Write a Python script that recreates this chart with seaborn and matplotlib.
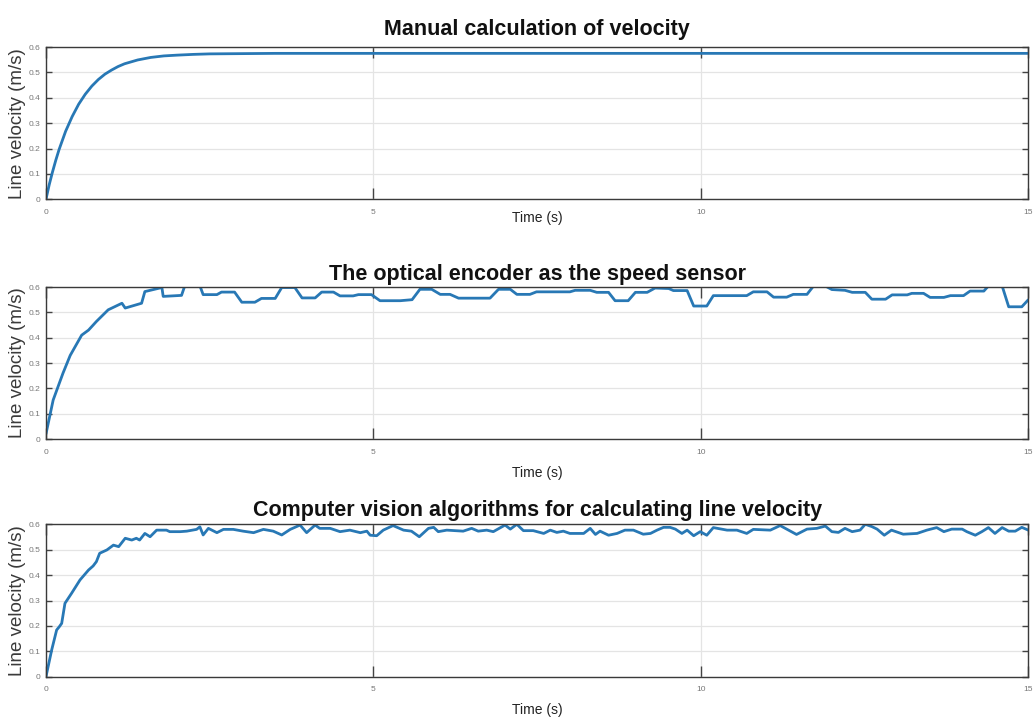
import numpy as np
import pandas as pd
import seaborn as sns
from matplotlib import pyplot as plt

# panel 1: manual calculation (smooth first-order rise)
t_manual = [0.0, 0.05, 0.1, 0.15, 0.2, 0.3, 0.4, 0.5, 0.6, 0.7, 0.8, 0.9, 1.0, 1.1, 1.2, 1.4,
            1.6, 1.8, 2.0, 2.25, 2.5, 3.0, 3.5, 4.0, 15.0]
v_manual = [0.0, 0.058, 0.108, 0.154, 0.196, 0.268, 0.326, 0.375, 0.414, 0.446, 0.472, 0.493,
            0.509, 0.523, 0.534, 0.549, 0.559, 0.565, 0.568, 0.571, 0.573, 0.574, 0.575, 0.575, 0.575]

# panel 2: optical encoder
t_encoder = [0.0, 0.11, 0.26, 0.37, 0.545, 0.65, 0.77, 0.95, 1.16, 1.21, 1.46, 1.51, 1.77, 1.79,
             2.07, 2.12, 2.35, 2.40, 2.61, 2.68, 2.88, 2.99, 3.19, 3.29, 3.50, 3.60, 3.80, 3.91,
             4.11, 4.21, 4.39, 4.49, 4.69, 4.77, 4.97, 5.10, 5.41, 5.59, 5.71, 5.89, 6.02, 6.17,
             6.30, 6.78, 6.91, 7.09, 7.19, 7.39, 7.49, 8.00, 8.08, 8.31, 8.41, 8.59, 8.69, 8.89,
             9.00, 9.18, 9.30, 9.51, 9.58, 9.79, 9.89, 10.09, 10.19, 10.70, 10.80, 11.01, 11.11,
             11.31, 11.41, 11.62, 11.72, 11.90, 12.00, 12.20, 12.31, 12.51, 12.61, 12.82, 12.92,
             13.15, 13.22, 13.40, 13.50, 13.71, 13.81, 14.01, 14.11, 14.32, 14.39, 14.60, 14.70,
             14.90, 15.0]
v_encoder = [0.02, 0.154, 0.26, 0.33, 0.41, 0.43, 0.464, 0.51, 0.536, 0.517, 0.536, 0.582, 0.598,
             0.563, 0.567, 0.605, 0.605, 0.57, 0.57, 0.58, 0.58, 0.54, 0.54, 0.555, 0.555, 0.598,
             0.598, 0.557, 0.557, 0.58, 0.58, 0.565, 0.565, 0.57, 0.57, 0.546, 0.546, 0.55, 0.591,
             0.591, 0.571, 0.571, 0.556, 0.556, 0.591, 0.591, 0.571, 0.571, 0.581, 0.581, 0.587,
             0.587, 0.579, 0.579, 0.546, 0.546, 0.579, 0.579, 0.596, 0.594, 0.586, 0.586, 0.525,
             0.525, 0.566, 0.566, 0.581, 0.581, 0.56, 0.56, 0.571, 0.571, 0.604, 0.604, 0.59,
             0.587, 0.579, 0.579, 0.552, 0.552, 0.569, 0.569, 0.575, 0.575, 0.559, 0.559, 0.566,
             0.566, 0.584, 0.584, 0.604, 0.604, 0.522, 0.522, 0.55]

# panel 3: computer vision
t_vision = [0.0, 0.087, 0.163, 0.204, 0.24, 0.29, 0.39, 0.52, 0.65, 0.72, 0.77, 0.82, 0.93, 1.03,
            1.11, 1.21, 1.31, 1.38, 1.43, 1.51, 1.59, 1.69, 1.84, 1.89, 2.05, 2.15, 2.30, 2.35,
            2.40, 2.48, 2.61, 2.71, 2.86, 3.01, 3.17, 3.32, 3.47, 3.60, 3.73, 3.88, 3.98, 4.11,
            4.18, 4.34, 4.49, 4.64, 4.80, 4.90,
            4.95, 5.05, 5.15, 5.30, 5.46, 5.58, 5.70, 5.84, 5.92, 5.99, 6.12, 6.37, 6.50, 6.60,
            6.73, 6.83, 7.01, 7.09, 7.19, 7.29, 7.44, 7.60, 7.70, 7.80, 7.90, 8.00, 8.21, 8.31,
            8.39, 8.46, 8.59, 8.72, 8.84, 8.97, 9.12, 9.23, 9.33, 9.43, 9.53, 9.61, 9.71, 9.79,
            9.89,
            9.99, 10.09, 10.19, 10.40, 10.55, 10.70, 10.80, 11.06, 11.21, 11.31, 11.46, 11.62,
            11.77, 11.90, 12.00, 12.10, 12.20, 12.31, 12.43, 12.51, 12.61, 12.69, 12.80, 12.91,
            13.09, 13.30, 13.45, 13.60, 13.71, 13.83, 13.99, 14.06, 14.19, 14.29, 14.39, 14.49,
            14.60, 14.70, 14.80, 14.90, 15.00]
v_vision = [0.0, 0.105, 0.184, 0.197, 0.21, 0.289, 0.328, 0.381, 0.42, 0.436, 0.453, 0.486, 0.499,
            0.518, 0.512, 0.545, 0.538, 0.545, 0.538, 0.564, 0.551, 0.577, 0.577, 0.571, 0.571,
            0.573, 0.58, 0.59, 0.558, 0.584, 0.567, 0.58, 0.58, 0.573, 0.567, 0.58, 0.573, 0.558,
            0.58, 0.597, 0.567, 0.597, 0.584, 0.584, 0.571, 0.577, 0.567, 0.573,
            0.557, 0.555, 0.577, 0.595, 0.577, 0.573, 0.551, 0.584, 0.588, 0.571, 0.577, 0.573,
            0.584, 0.573, 0.577, 0.571, 0.597, 0.581, 0.600, 0.575, 0.575, 0.564, 0.577, 0.568,
            0.573, 0.564, 0.564, 0.584, 0.560, 0.573, 0.557, 0.564, 0.577, 0.577, 0.561, 0.564,
            0.577, 0.588, 0.588, 0.581, 0.564, 0.577, 0.555,
            0.571, 0.557, 0.587, 0.577, 0.577, 0.564, 0.580, 0.577, 0.595, 0.581, 0.560, 0.581,
            0.584, 0.593, 0.571, 0.568, 0.584, 0.571, 0.577, 0.600, 0.591, 0.581, 0.557, 0.577,
            0.561, 0.564, 0.577, 0.587, 0.571, 0.581, 0.581, 0.571, 0.557, 0.571, 0.587, 0.564,
            0.587, 0.573, 0.573, 0.588, 0.577]

titles = ["Manual calculation of velocity",
          "The optical encoder as the speed sensor",
          "Computer vision algorithms for calculating line velocity"]
series = [(t_manual, v_manual), (t_encoder, v_encoder), (t_vision, v_vision)]

sns.set_theme(style="whitegrid")
plt.rcParams["font.family"] = ["Liberation Sans Narrow", "Liberation Sans", "DejaVu Sans"]

fig = plt.figure(figsize=(10.33, 7.19), dpi=100)
positions = [[0.0445, 0.7228, 0.951, 0.2118],
             [0.0445, 0.3894, 0.951, 0.2114],
             [0.0445, 0.0588, 0.951, 0.2120]]
title_pads = [8.5, 5, 6]
xlabel_pads = [-3.5, 7.3, 6.6]
line_color = "#2878b5"

for i, (pos, title, (t, v)) in enumerate(zip(positions, titles, series)):
    ax = fig.add_axes(pos)
    df = pd.DataFrame({"t": t, "v": v})
    sns.lineplot(data=df, x="t", y="v", ax=ax, color=line_color, linewidth=2.0,
                 estimator=None, sort=False)
    ax.set_xlim(0, 15)
    ax.set_ylim(0, 0.6)
    ax.set_xticks([0, 5, 10, 15])
    ax.set_yticks([0, 0.1, 0.2, 0.3, 0.4, 0.5, 0.6])
    ax.set_yticklabels(["0", "0.1", "0.2", "0.3", "0.4", "0.5", "0.6"])
    ax.grid(True, color="#e4e4e4", linewidth=0.9)
    ax.set_facecolor("white")
    for side in ["left", "right", "top", "bottom"]:
        ax.spines[side].set_visible(True)
        ax.spines[side].set_color("#3a3a3a")
        ax.spines[side].set_linewidth(1.0)
    ax.tick_params(axis="x", direction="in", length=8, width=1, color="#444444",
                   labelsize=6, labelcolor="#777777", top=True, bottom=True, pad=7)
    ax.tick_params(axis="y", direction="in", length=4.5, width=1, color="#444444",
                   labelsize=6, labelcolor="#777777", left=True, right=True, pad=4)
    ax.set_title(title, fontsize=15.5, fontweight="bold", color="#111111", pad=title_pads[i])
    ax.set_xlabel("Time (s)", fontsize=10, color="#222222", labelpad=xlabel_pads[i])
    ax.set_ylabel("Line velocity (m/s)", fontsize=13.5, color="#3a3a3a",
                  family=["Liberation Sans", "DejaVu Sans"], labelpad=2)

fig.savefig("out.png", dpi=100)
